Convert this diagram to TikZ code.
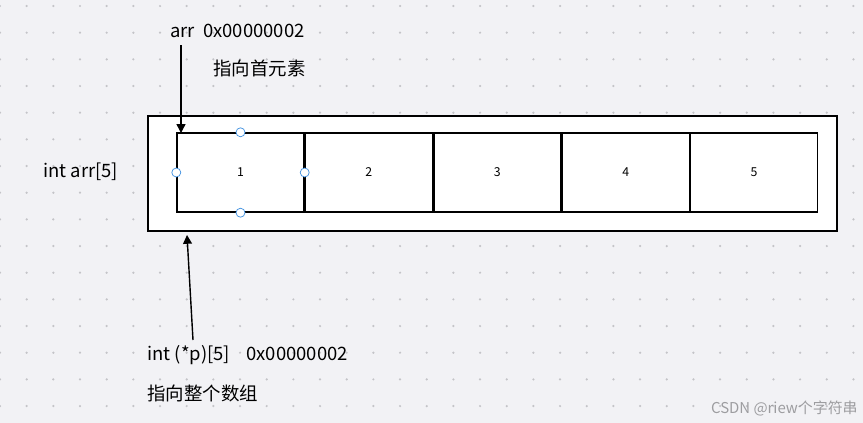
\documentclass[tikz,border=0pt]{standalone}
\usepackage{fontspec}
\setmainfont{Noto Sans CJK SC}
\usetikzlibrary{positioning,arrows.meta}
\definecolor{bggray}{HTML}{F2F2F5}
\definecolor{dotgray}{HTML}{C4C4C8}
\definecolor{handle}{HTML}{3D8FE0}
\tikzset{
  cell/.style={draw, thick, fill=white, minimum width=127*0.02cm, minimum height=79*0.02cm, inner sep=0pt, font=\fontsize{7}{8}\selectfont},
  label/.style={inner sep=0pt, font=\fontsize{10.5}{12}\selectfont},
  handledot/.style={circle, draw=handle, fill=white, inner sep=0pt, minimum size=9*0.02cm},
  ptr/.style={-{Triangle[length=5pt,width=5pt]}, thick}
}
\begin{document}
\begin{tikzpicture}[x=0.02cm,y=-0.02cm]
                \fill[bggray] (0,0) rectangle (863,423);
                \useasboundingbox (0,0) rectangle (863,423);
                \foreach \i in {0,...,32}
                  \foreach \j in {0,...,15}
                    \fill[dotgray] (\i*26.67,6+\j*26.67) circle (0.7pt);
                \node [draw, thick, fill=white, minimum width=689*0.02cm, minimum height=115*0.02cm, inner sep=0pt] (outer) at (492.5,173.5) {};
                \node [cell] (c1) at (240.5,172.5) {1};
                \node [cell, right=0pt of c1] (c2) {2};
                \node [cell, right=0pt of c2] (c3) {3};
                \node [cell, right=0pt of c3] (c4) {4};
                \node [cell, right=0pt of c4] (c5) {5};
                \node [handledot] at (c1.north) {};
                \node [handledot] at (c1.south) {};
                \node [handledot] at (c1.west) {};
                \node [handledot] at (c1.east) {};
                \node [label, anchor=west] (arrtxt) at (170,31) {arr\ \ 0x00000002};
                \node [label, anchor=west] (first) at (213,68) {指向首元素};
                \node [label, anchor=west] (decl) at (43,172) {int arr[5]};
                \node [label, anchor=west] (ptrtxt) at (147,355) {int (*p)[5]\ \ \ \ 0x00000002};
                \node [label, anchor=west] (whole) at (147,393) {指向整个数组};
                \node [anchor=east, inner sep=0pt, text=dotgray!80!black, font=\fontsize{8.5}{10}\selectfont] (mark) at (858,408) {CSDN @riew个字符串};
                \coordinate (topend) at (181,133);
                \coordinate (botend) at (187,235);
                \draw [ptr] (181,45) -- (topend);
                \draw [ptr] (193,340) -- (botend);
            \end{tikzpicture}
\end{document}
